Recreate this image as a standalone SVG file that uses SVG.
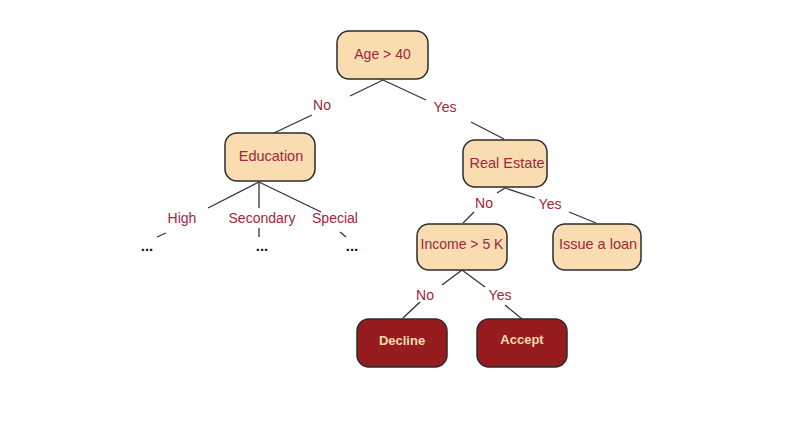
<svg xmlns="http://www.w3.org/2000/svg" width="800" height="426" viewBox="0 0 800 426">
<style>
.box{fill:#f9ddb1;stroke:#2b2b2b;stroke-width:1.5}
.dark{fill:#961c20;stroke:#2b2b2b;stroke-width:1.5}
.t{font-family:"Liberation Sans",Arial,sans-serif;font-size:14px;fill:#a3253a;text-anchor:middle}
.n{font-size:14.5px}
.tl{font-family:"Liberation Sans",Arial,sans-serif;font-size:13px;fill:#f6dba9;font-weight:bold;text-anchor:middle}
.dots{font-family:"Liberation Sans",Arial,sans-serif;font-size:15px;fill:#111;font-weight:bold;text-anchor:middle}
.c line{stroke:#333;stroke-width:1.3}
</style>
<rect width="800" height="426" fill="#fff"/>
<g id="connectors" class="c">
<line x1="383" y1="80" x2="350" y2="96"/>
<line x1="383" y1="80" x2="426" y2="100"/>
<line x1="312" y1="115" x2="274" y2="133"/>
<line x1="471" y1="122" x2="504" y2="139"/>
<line x1="259" y1="182" x2="208" y2="208"/>
<line x1="259" y1="182" x2="259" y2="208"/>
<line x1="259" y1="182" x2="321" y2="212"/>
<line x1="157" y1="237" x2="166" y2="233"/>
<line x1="259" y1="228" x2="259" y2="237"/>
<line x1="340" y1="232" x2="346" y2="237"/>
<line x1="505" y1="188" x2="497" y2="193"/>
<line x1="474" y1="212" x2="463" y2="223"/>
<line x1="505" y1="188" x2="535" y2="198"/>
<line x1="569" y1="212" x2="596" y2="223"/>
<line x1="462" y1="270" x2="442" y2="285"/>
<line x1="420" y1="302" x2="403" y2="318"/>
<line x1="462" y1="270" x2="485" y2="287"/>
<line x1="505" y1="305" x2="522" y2="319"/>
</g>
<g id="labels">
<text class="t" x="322" y="110">No</text>
<text class="t" x="445" y="112">Yes</text>
<text class="t" x="182" y="223">High</text>
<text class="t" x="262" y="223">Secondary</text>
<text class="t" x="335" y="223">Special</text>
<text class="dots" x="147" y="251">...</text>
<text class="dots" x="262" y="251">...</text>
<text class="dots" x="352" y="251">...</text>
<text class="t" x="484" y="208">No</text>
<text class="t" x="550" y="209">Yes</text>
<text class="t" x="425" y="300">No</text>
<text class="t" x="500" y="300">Yes</text>
</g>
<g id="age">
<rect class="box" x="337" y="31" width="91" height="48" rx="12"/>
<text class="t" x="382.5" y="59">Age &gt; 40</text>
</g>
<g id="education">
<rect class="box" x="225" y="133" width="90" height="48" rx="12"/>
<text class="t n" x="271" y="161">Education</text>
</g>
<g id="realestate">
<rect class="box" x="463" y="140" width="84" height="47" rx="12"/>
<text class="t n" x="507" y="168">Real Estate</text>
</g>
<g id="income">
<rect class="box" x="417" y="224" width="90" height="46" rx="12"/>
<text class="t" x="462" y="249">Income &gt; 5 K</text>
</g>
<g id="issue">
<rect class="box" x="553" y="224" width="88" height="46" rx="12"/>
<text class="t n" x="598" y="249">Issue a loan</text>
</g>
<g id="decline">
<rect class="dark" x="357" y="319" width="90" height="48" rx="12"/>
<text class="tl" x="402" y="345">Decline</text>
</g>
<g id="accept">
<rect class="dark" x="477" y="319" width="90" height="48" rx="12"/>
<text class="tl" x="522" y="344">Accept</text>
</g>
</svg>
